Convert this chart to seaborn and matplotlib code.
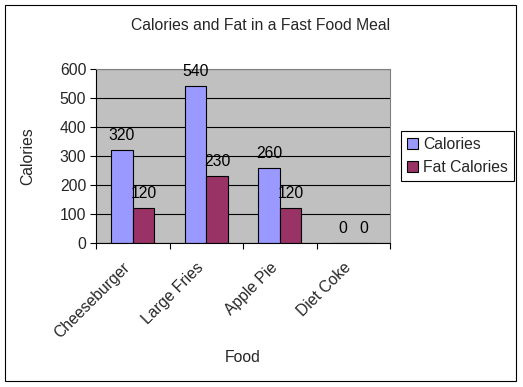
import matplotlib
matplotlib.use("Agg")
import matplotlib.pyplot as plt
import seaborn as sns
import pandas as pd
from matplotlib.patches import Rectangle

foods = ["Cheeseburger", "Large Fries", "Apple Pie", "Diet Coke"]
calories = [320, 540, 260, 0]
fat_calories = [120, 230, 120, 0]
series = ["Calories", "Fat Calories"]
colors = ["#9999FF", "#993366"]
yticks = [0, 100, 200, 300, 400, 500, 600]

df = pd.DataFrame({
    "Food": foods * 2,
    "Value": calories + fat_calories,
    "Series": [series[0]] * len(foods) + [series[1]] * len(foods),
})

sns.set_theme(style="white")
plt.rcParams["font.family"] = ["Liberation Sans", "DejaVu Sans"]
FS = 11.3

fig = plt.figure(figsize=(5.23, 3.87), dpi=100)
ax = fig.add_axes([96 / 523, 1 - 243 / 387, (390 - 96) / 523, (243 - 69) / 387])

sns.barplot(data=df, x="Food", y="Value", hue="Series", palette=colors,
            width=0.585, edgecolor="black", linewidth=0.8, ax=ax,
            saturation=1, legend=True)

ax.set_facecolor("#C0C0C0")
ax.set_ylim(0, 600)
ax.set_xlim(-0.5, len(foods) - 0.5)
ax.set_yticks(yticks)
ax.set_yticklabels([str(t) for t in yticks], fontsize=FS)
ax.yaxis.grid(True, color="black", linewidth=0.8)
ax.set_axisbelow(True)

for c in ax.containers:
    ax.bar_label(c, labels=[f"{v:.0f}" for v in c.datavalues], padding=5,
                 fontsize=FS, color="black")

# x ticks at category boundaries, labels near centers (slightly left, as in ref)
ax.set_xticks([i - 0.5 for i in range(len(foods) + 1)], minor=False)
ax.set_xticklabels([""] * (len(foods) + 1))
ax.set_xticks([i - 0.14 for i in range(len(foods))], minor=True)
ax.set_xticklabels(foods, minor=True, rotation=45, ha="right",
                   rotation_mode="anchor", fontsize=FS)
ax.tick_params(axis="x", which="minor", length=0, pad=12)
ax.tick_params(axis="x", which="major", length=4, width=0.8, color="black",
               direction="out", bottom=True)
ax.tick_params(axis="y", length=4, width=0.8, color="black", direction="out",
               left=True, pad=3)

for s in ["left", "bottom"]:
    ax.spines[s].set_color("black")
    ax.spines[s].set_linewidth(0.8)
for s in ["top", "right"]:
    ax.spines[s].set_color("#808080")
    ax.spines[s].set_linewidth(0.8)
    ax.spines[s].set_visible(True)

ax.set_xlabel("")
ax.set_ylabel("")
fig.text(243 / 523, 1 - 357 / 387, "Food", ha="center", va="center", fontsize=FS)
fig.text(28 / 523, 1 - 156 / 387, "Calories", ha="center", va="center",
         rotation=90, fontsize=FS)
fig.text(261 / 523, 1 - 26 / 387, "Calories and Fat in a Fast Food Meal",
         ha="center", va="center", fontsize=FS)

leg = ax.legend(loc="center left", bbox_to_anchor=(401 / 523, 1 - 156 / 387),
                bbox_transform=fig.transFigure, fontsize=FS, frameon=True,
                fancybox=False, edgecolor="black", framealpha=1,
                handlelength=0.7, handleheight=0.7, handletextpad=0.3,
                borderpad=0.4, labelspacing=0.45, borderaxespad=0)
leg.get_frame().set_linewidth(0.8)

fig.patches.append(Rectangle((5 / 523, 1 - 381 / 387), 511 / 523, 376 / 387,
                             transform=fig.transFigure, fill=False,
                             edgecolor="black", linewidth=0.8))

fig.savefig("out.png", dpi=100, facecolor="white")
